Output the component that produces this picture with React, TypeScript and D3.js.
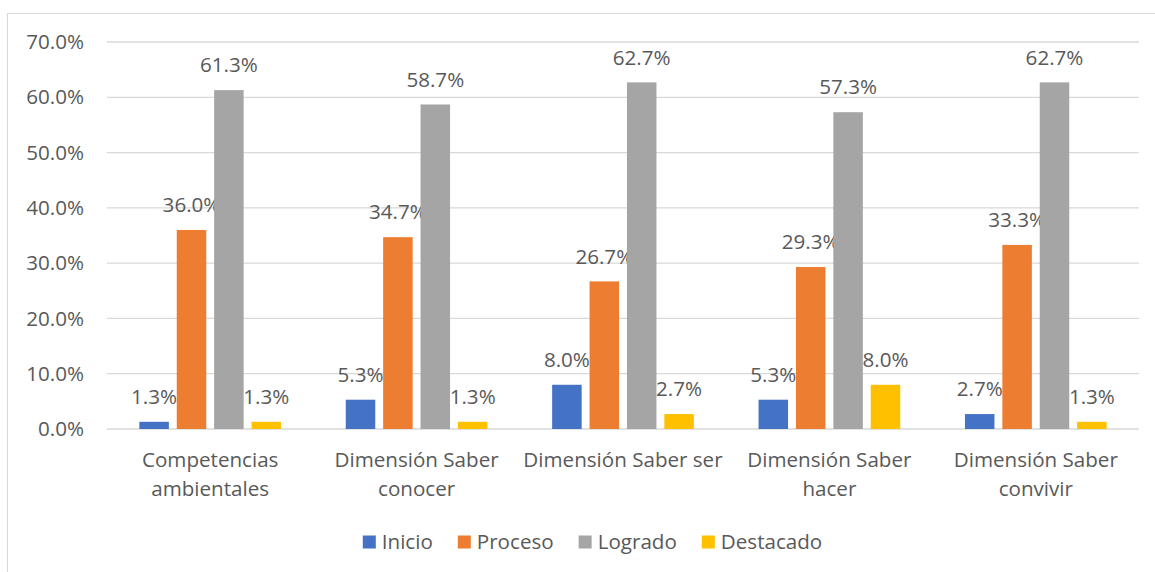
import React from "react"
import * as d3 from "d3"

const categories = [
  ["Competencias", "ambientales"],
  ["Dimensión Saber", "conocer"],
  ["Dimensión Saber ser"],
  ["Dimensión Saber", "hacer"],
  ["Dimensión Saber", "convivir"],
]
const seriesNames = ["Inicio", "Proceso", "Logrado", "Destacado"]
const seriesColors = ["#4472C4", "#ED7D31", "#A5A5A5", "#FFC000"]
const inicio = [1.3, 5.3, 8.0, 5.3, 2.7]
const proceso = [36.0, 34.7, 26.7, 29.3, 33.3]
const logrado = [61.3, 58.7, 62.7, 57.3, 62.7]
const destacado = [1.3, 1.3, 2.7, 8.0, 1.3]
const yTicks = [0, 10, 20, 30, 40, 50, 60, 70]

const W = 1155
const H = 572
const FONT_NAME = "Open Sans"
const FONT = `'${FONT_NAME}', sans-serif`
const FS = 20.6
const TEXT = "#595959"

function textWidth(s: string, size: number) {
  const c = document.createElement("canvas").getContext("2d")
  if (!c) return s.length * size * 0.5
  c.font = `${size}px '${FONT_NAME}'`
  return c.measureText(s).width
}

export default function App() {
  const values = [inicio, proceso, logrado, destacado]
  const plot = { left: 107, right: 1139, top: 42, bottom: 429 }

  const y = d3.scaleLinear().domain([0, 70]).range([plot.bottom, plot.top])
  const x0 = d3
    .scaleBand<number>()
    .domain(d3.range(categories.length))
    .range([plot.left, plot.right])
  const groupPad = (x0.bandwidth() - 141.7) / 2
  const x1 = d3
    .scaleBand<number>()
    .domain(d3.range(seriesNames.length))
    .range([groupPad, x0.bandwidth() - groupPad])
    .paddingInner(0.211)

  // legend layout
  const itemWidths = seriesNames.map((n) => 13 + 6 + textWidth(n, FS))
  const legendGap = 25
  const legendTotal = d3.sum(itemWidths) + legendGap * (seriesNames.length - 1)
  let lx = 592.5 - legendTotal / 2
  const legendX = itemWidths.map((w) => {
    const v = lx
    lx += w + legendGap
    return v
  })

  return (
    <svg
      width={W}
      height={H}
      style={{ position: "absolute", left: 0, top: 0, fontFamily: FONT }}
    >
      <rect x={0} y={0} width={W} height={H} fill="#fff" />
      <rect
        x={7.5}
        y={13.5}
        width={W + 10}
        height={H + 10}
        fill="none"
        stroke="#d9d9d9"
      />
      {yTicks.map((t) => (
        <g key={t}>
          <line
            x1={plot.left}
            x2={plot.right}
            y1={y(t)}
            y2={y(t)}
            stroke="#d9d9d9"
            strokeWidth={1.3}
          />
          <text
            x={plot.left - 23}
            y={y(t)}
            dy="0.35em"
            textAnchor="end"
            fontSize={FS}
            fill={TEXT}
          >
            {t.toFixed(1)}%
          </text>
        </g>
      ))}
      {categories.map((cat, i) => (
        <g key={i} transform={`translate(${x0(i)},0)`}>
          {values.map((vals, s) => {
            const bx = x1(s)!
            const bw = x1.bandwidth()
            const v = vals[i]
            return (
              <g key={s}>
                <rect
                  x={bx}
                  y={y(v)}
                  width={bw}
                  height={y(0) - y(v)}
                  fill={seriesColors[s]}
                />
                <text
                  x={bx + bw / 2}
                  y={y(v) - 25}
                  dy="0.35em"
                  textAnchor="middle"
                  fontSize={FS}
                  fill={TEXT}
                >
                  {v.toFixed(1)}%
                </text>
              </g>
            )
          })}
          {cat.map((line, k) => (
            <text
              key={k}
              x={x0.bandwidth() / 2}
              y={460 + k * 29}
              dy="0.35em"
              textAnchor="middle"
              fontSize={FS}
              fill={TEXT}
            >
              {line}
            </text>
          ))}
        </g>
      ))}
      {seriesNames.map((n, s) => (
        <g key={n} transform={`translate(${legendX[s]},542)`}>
          <rect x={0} y={-6.5} width={13} height={13} fill={seriesColors[s]} />
          <text x={19} y={0} dy="0.35em" fontSize={FS} fill={TEXT}>
            {n}
          </text>
        </g>
      ))}
    </svg>
  )
}
